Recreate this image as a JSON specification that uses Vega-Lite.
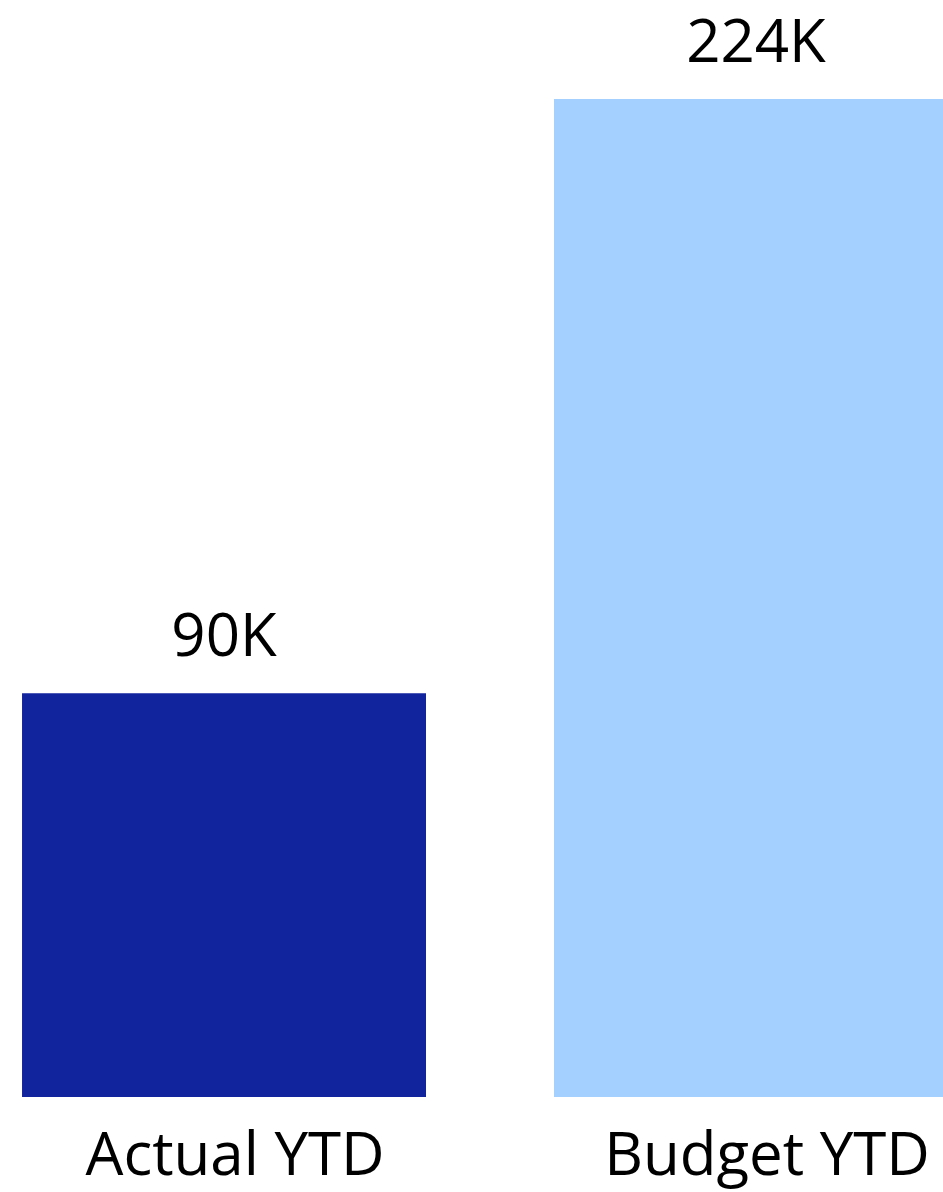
{
  "$schema": "https://vega.github.io/schema/vega-lite/v6.json",
  "width": 943,
  "height": 1097,
  "autosize": {"type": "none"},
  "padding": {"left": 0, "top": 0, "right": 0, "bottom": 95},
  "background": "white",
  "config": {"view": {"stroke": null}, "font": "Open Sans"},
  "data": {
    "values": [
      {"category": "Actual YTD", "value": 90600, "label": "90K"},
      {"category": "Budget YTD", "value": 224000, "label": "224K"}
    ]
  },
  "encoding": {
    "x": {
      "field": "category",
      "type": "nominal",
      "sort": null,
      "scale": {"range": [0, 980], "paddingInner": 0.2406, "paddingOuter": 0.0414},
      "axis": {
        "title": null,
        "domain": false,
        "ticks": false,
        "labelAngle": 0,
        "labelFont": "Open Sans",
        "labelFontSize": 60,
        "labelColor": "#000000",
        "labelBaseline": "alphabetic",
        "labelPadding": 77,
        "labelOffset": 11,
        "labelOverlap": false,
        "labelBound": false,
        "labelLimit": 0
      }
    },
    "y": {
      "field": "value",
      "type": "quantitative",
      "scale": {"domain": [0, 246220], "nice": false},
      "axis": null
    }
  },
  "layer": [
    {
      "mark": {"type": "bar"},
      "encoding": {
        "color": {
          "field": "category",
          "type": "nominal",
          "scale": {"domain": ["Actual YTD", "Budget YTD"], "range": ["#12239E", "#A3D0FF"]},
          "legend": null
        }
      }
    },
    {
      "mark": {"type": "text", "baseline": "alphabetic", "align": "center", "dy": -37, "fontSize": 60, "font": "Open Sans", "color": "#000000"},
      "encoding": {"text": {"field": "label"}}
    }
  ]
}
